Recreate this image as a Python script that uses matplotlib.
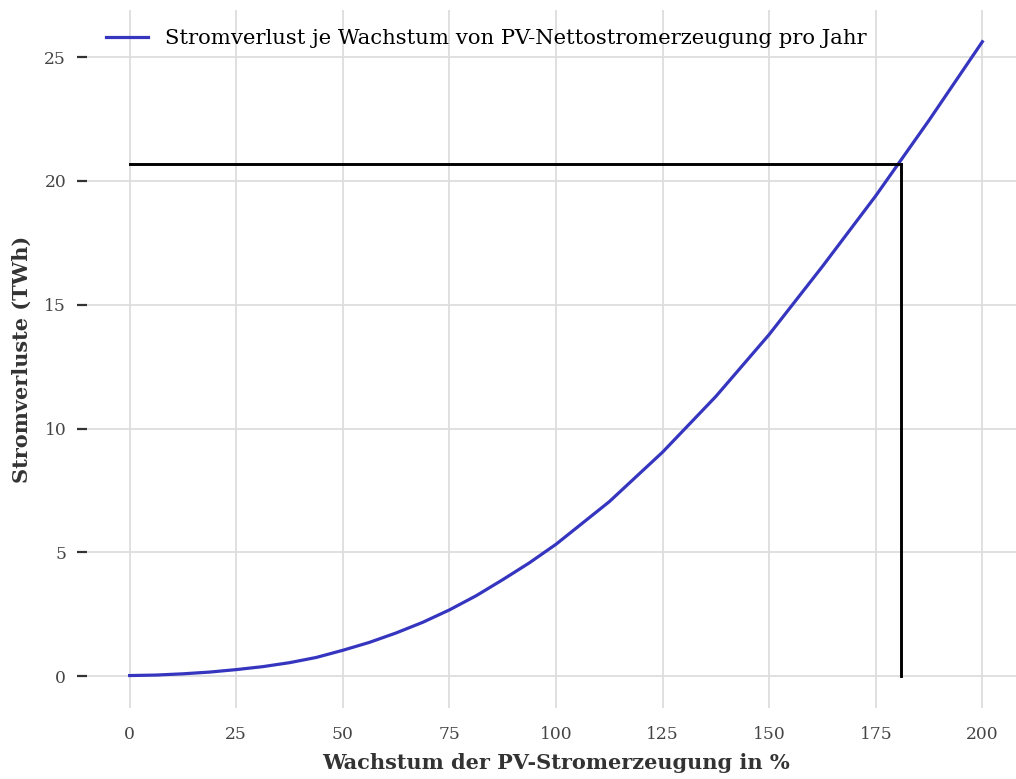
import matplotlib
matplotlib.use("Agg")
import matplotlib.pyplot as plt

# Wachstum der PV-Stromerzeugung (%) und Stromverluste (TWh)
wachstum = [0, 6.25, 12.5, 18.75, 25, 31.25, 37.5, 43.75, 50, 56.25, 62.5,
            68.75, 75, 81.25, 87.5, 93.75, 100, 112.5, 125, 137.5, 150,
            162.5, 175, 187.5, 200]
verluste = [0.03, 0.05, 0.1, 0.17, 0.27, 0.39, 0.55, 0.76, 1.05, 1.37, 1.75,
            2.18, 2.68, 3.25, 3.9, 4.58, 5.33, 7.05, 9.05, 11.3, 13.8,
            16.55, 19.4, 22.45, 25.62]

# Markierung
marker_x = 181
marker_y = 20.7

plt.rcParams['font.family'] = ['DejaVu Serif']

fig = plt.figure(figsize=(10.16, 7.79), dpi=100)
ax = fig.add_axes([87 / 1016, 71 / 779, 938 / 1016, 698 / 779])

ax.plot(wachstum, verluste, color='#3535c0', linewidth=2.3,
        label='Stromverlust je Wachstum von PV-Nettostromerzeugung pro Jahr')
ax.plot([0, marker_x], [marker_y, marker_y], color='black', linewidth=2.1)
ax.plot([marker_x, marker_x], [0, marker_y], color='black', linewidth=2.1)

ax.set_xlim(-10, 210)
ax.set_ylim(-1.28, 26.9)
ax.set_xticks([0, 25, 50, 75, 100, 125, 150, 175, 200])
ax.set_yticks([0, 5, 10, 15, 20, 25])

for s in ax.spines.values():
    s.set_visible(False)
ax.grid(True, color='#dddddd', linewidth=1.3)
ax.set_axisbelow(True)

ax.tick_params(axis='y', length=7, width=1.6, color='#333333',
               labelcolor='#444444', labelsize=12.3, pad=8)
ax.tick_params(axis='x', length=0, labelcolor='#444444', labelsize=12.3, pad=13)

ax.set_xlabel('Wachstum der PV-Stromerzeugung in %', fontsize=15,
              fontweight='bold', color='#333333', labelpad=7)
ax.set_ylabel('Stromverluste (TWh)', fontsize=15, fontweight='bold',
              color='#333333', labelpad=9)

ax.legend(loc='upper left', frameon=False, fontsize=15.2,
          bbox_to_anchor=(0.0, 1.0))

fig.savefig('out.png', dpi=100)
